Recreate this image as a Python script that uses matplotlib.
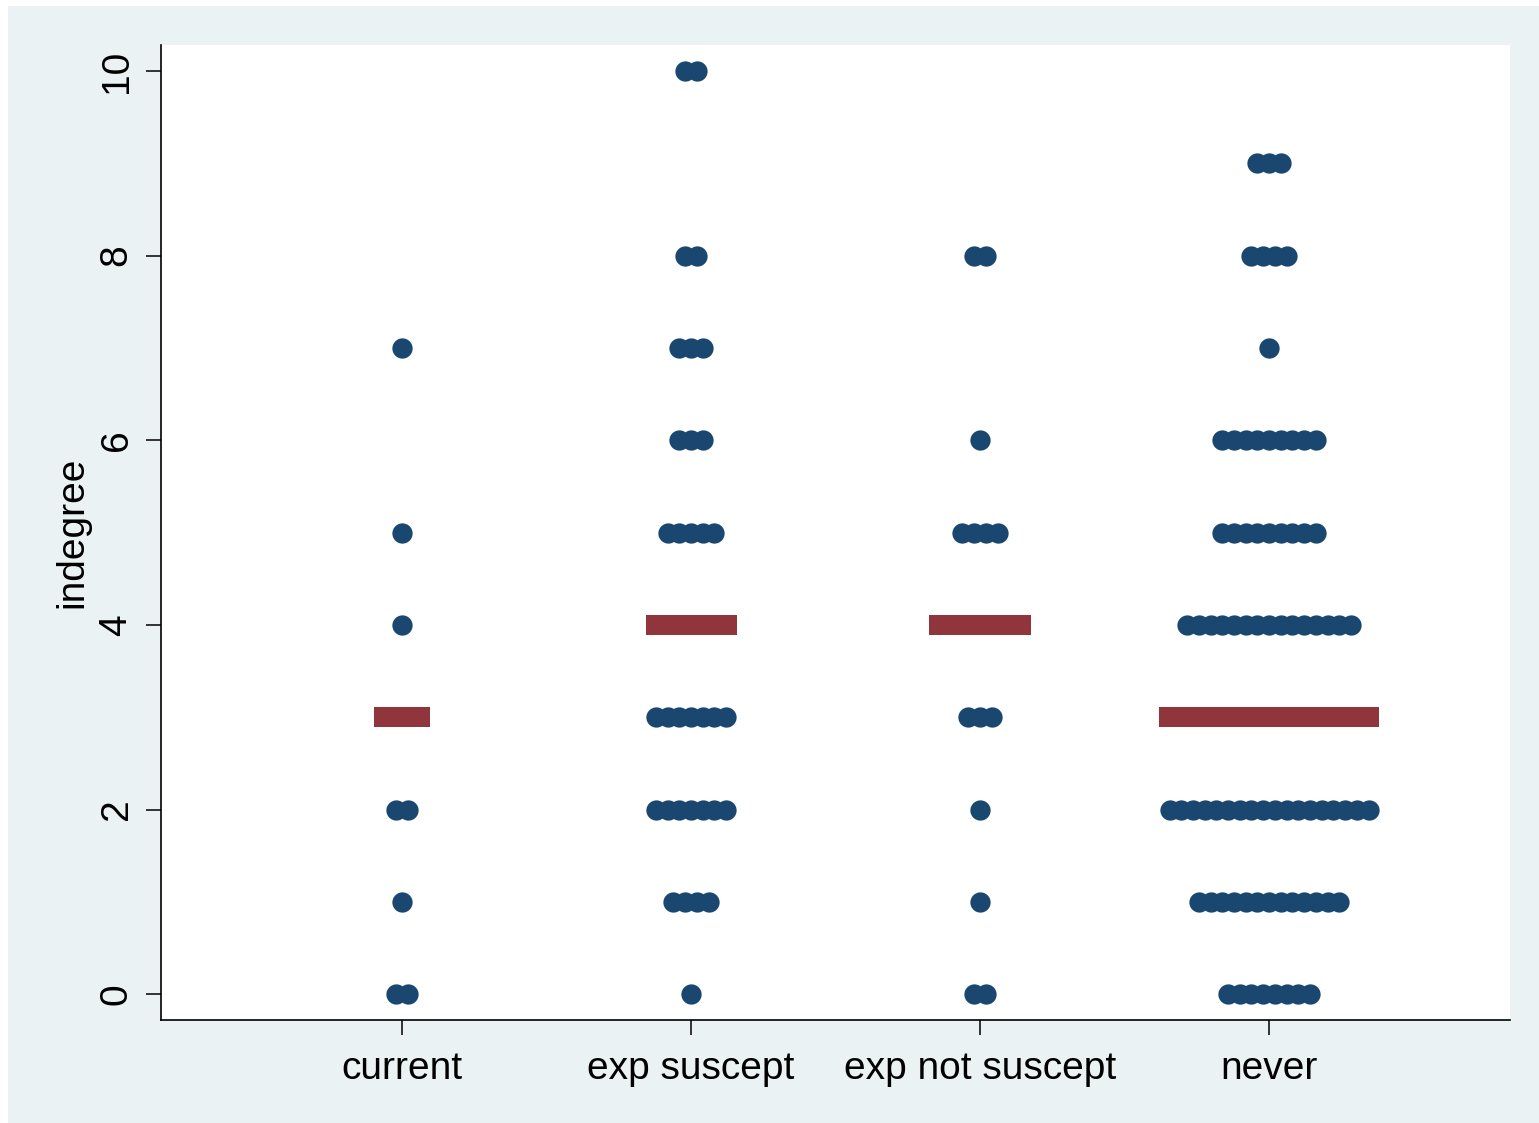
import numpy as np
import matplotlib.pyplot as plt
from matplotlib.patches import Rectangle

plt.rcParams['font.family'] = ['Liberation Sans', 'DejaVu Sans']

groups = ["current", "exp suscept", "exp not suscept", "never"]

# indegree value and number of people with that value, per group
current_vals = [0, 1, 2, 4, 5, 7]
current_counts = [2, 1, 2, 1, 1, 1]
suscept_vals = [0, 1, 2, 3, 5, 6, 7, 8, 10]
suscept_counts = [1, 4, 7, 7, 5, 3, 3, 2, 2]
notsuscept_vals = [0, 1, 2, 3, 5, 6, 8]
notsuscept_counts = [2, 1, 1, 3, 4, 1, 2]
never_vals = [0, 1, 2, 4, 5, 6, 7, 8, 9]
never_counts = [8, 13, 18, 15, 9, 9, 1, 4, 3]

medians = [3, 4, 4, 3]

navy = "#1a476f"
maroon = "#90353b"
bg = "#eaf2f3"

fig = plt.figure(figsize=(15.39, 11.23), dpi=100)
fig.patch.set_facecolor("white")
fig.patches.append(Rectangle((8 / 1539, 0), 1, 1 - 6 / 1123,
                             transform=fig.transFigure, facecolor=bg,
                             edgecolor="none", zorder=-10))
ax = fig.add_axes([0.1046, 0.0917, 0.8766, 0.8682])
ax.set_facecolor("white")

step = 0.0405  # horizontal spacing between stacked dots
bar_widths = [0.194, 0.315, 0.35, 0.761]

data = [(current_vals, current_counts), (suscept_vals, suscept_counts),
        (notsuscept_vals, notsuscept_counts), (never_vals, never_counts)]

for g, (vals, counts) in enumerate(data):
    pos = g + 1
    xs, ys = [], []
    for v, n in zip(vals, counts):
        off = (np.arange(n) - (n - 1) / 2) * step
        xs.extend(pos + off)
        ys.extend([v] * n)
    ax.plot(xs, ys, 'o', color=navy, markersize=14.6, markeredgewidth=0, zorder=3)
    half = bar_widths[g] / 2
    ax.plot([pos - half, pos + half], [medians[g], medians[g]], color=maroon,
            linewidth=14.4, solid_capstyle='butt', zorder=4)

ax.set_xlim(0.166, 4.834)
ax.set_ylim(-0.28, 10.28)
ax.set_xticks([1, 2, 3, 4])
ax.set_xticklabels(groups)
ax.set_yticks([0, 2, 4, 6, 8, 10])
ax.set_yticklabels(["0", "2", "4", "6", "8", "10"], rotation=90, va="center")
ax.set_ylabel("indegree", fontsize=28, labelpad=6)

for s in ["top", "right"]:
    ax.spines[s].set_visible(False)
for s in ["left", "bottom"]:
    ax.spines[s].set_linewidth(1.2)
ax.tick_params(axis="both", direction="out", length=11, width=1.1,
               labelsize=28, pad=8)
ax.tick_params(axis="x", pad=11)

fig.savefig("out.png", dpi=100)
